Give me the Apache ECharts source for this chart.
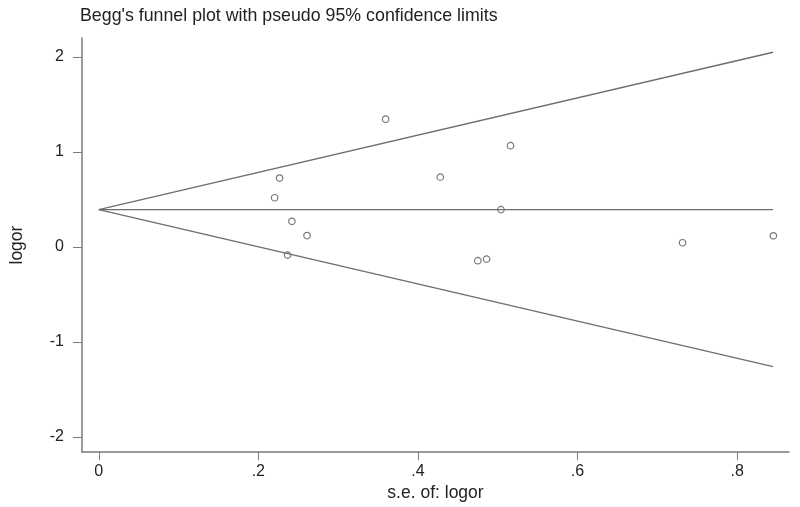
<!DOCTYPE html>
<html><head><meta charset="utf-8">
<script src="https://cdn.jsdelivr.net/npm/echarts@6/dist/echarts.min.js"></script>
<style>html,body{margin:0;padding:0;background:#fff}#c{width:800px;height:507px}</style>
</head><body><div id="c"></div>
<script>
// standard errors (x) and log odds ratios (y) of the studies
const seValues = [0.3595, 0.516, 0.2266, 0.428, 0.2204, 0.504, 0.242, 0.261, 0.2366, 0.475, 0.486, 0.7316, 0.8454];
const logorValues = [1.345, 1.066, 0.725, 0.735, 0.518, 0.393, 0.27, 0.12, -0.086, -0.145, -0.128, 0.044, 0.117];
// pooled estimate line and pseudo 95% limits (endpoints)
const pooledLine = [[0, 0.393], [0.845, 0.393]];
const upperLimit = [[0, 0.393], [0.845, 2.05]];
const lowerLimit = [[0, 0.393], [0.845, -1.26]];
const xTicks = [0, 0.2, 0.4, 0.6, 0.8];
const yTicks = [-2, -1, 0, 1, 2];

const points = seValues.map((s, i) => [s, logorValues[i]]);
const chart = echarts.init(document.getElementById('c'));
const font = 'Liberation Sans, Arial, sans-serif';
const lineStyle = {color: '#6e6e6e', width: 1.4};
chart.setOption({
  animation: false,
  title: {text: "Begg's funnel plot with pseudo 95% confidence limits", left: 75, top: 2,
    textStyle: {fontFamily: font, fontSize: 17.8, fontWeight: 'normal', color: '#222'}},
  grid: {left: 80, right: 11, top: 38, bottom: 52},
  xAxis: {type: 'value', min: -0.021, max: 0.865,
    name: 's.e. of: logor', nameLocation: 'middle', nameGap: 28,
    nameTextStyle: {fontFamily: font, fontSize: 17.5, color: '#222'},
    axisLine: {show: true, onZero: false, lineStyle: {color: '#7a7a7a', width: 1.5}},
    axisTick: {show: true, length: 8, customValues: xTicks, lineStyle: {color: '#7a7a7a'}},
    axisLabel: {customValues: xTicks, margin: 11, fontFamily: font, fontSize: 16, color: '#222',
      formatter: v => (Math.abs(v) < 1e-9 ? '0' : String(+v.toFixed(1)).replace(/^0/, ''))},
    splitLine: {show: false}},
  yAxis: {type: 'value', min: -2.16, max: 2.2,
    name: 'logor', nameLocation: 'middle', nameGap: 56, nameRotate: 90,
    nameTextStyle: {fontFamily: font, fontSize: 17.5, color: '#222'},
    axisLine: {show: true, onZero: false, lineStyle: {color: '#7a7a7a', width: 1.5}},
    axisTick: {show: true, length: 9, customValues: yTicks, lineStyle: {color: '#7a7a7a'}},
    axisLabel: {customValues: yTicks, margin: 18, fontFamily: font, fontSize: 16, color: '#222',
      formatter: v => String(Math.round(v))},
    splitLine: {show: false}},
  series: [
    {type: 'line', data: upperLimit, symbol: 'none', lineStyle: lineStyle, silent: true},
    {type: 'line', data: lowerLimit, symbol: 'none', lineStyle: lineStyle, silent: true},
    {type: 'line', data: pooledLine, symbol: 'none', lineStyle: lineStyle, silent: true},
    {type: 'scatter', data: points, symbol: 'circle', symbolSize: 6.5,
      itemStyle: {color: '#fff', borderColor: '#555', borderWidth: 1.2}}
  ]
});
</script></body></html>
